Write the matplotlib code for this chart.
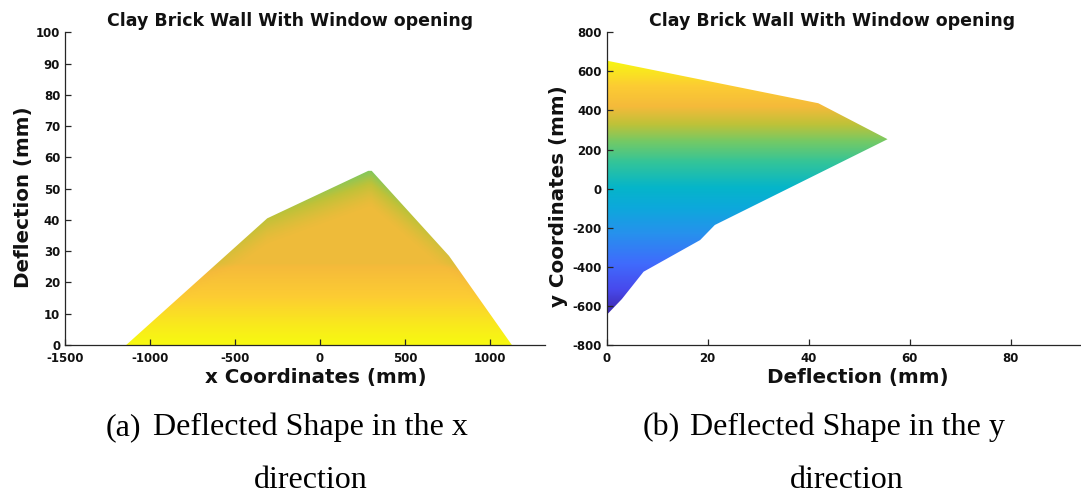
import numpy as np
import matplotlib
matplotlib.use("Agg")
import matplotlib.pyplot as plt
from matplotlib.colors import LinearSegmentedColormap
from matplotlib.patches import Polygon

plt.rcParams["axes.unicode_minus"] = False

# ---------------- DATA ----------------
# (a) outline of the deflected wall seen along y : x coordinate vs deflection
wall_x = [-1140, -310, 285, 305, 760, 1130]
wall_defl = [0, 40.5, 55.7, 55.7, 28.5, 0]

# (b) outline of the deflected wall seen along x : deflection vs y coordinate
profile_defl = [0, 41.9, 55.6, 21.4, 18.5, 7.3, 3.0, 0]
profile_y = [655, 437, 253, -186, -263, -425, -565, -646]

xticks_a = [-1500, -1000, -500, 0, 500, 1000]
yticks_a = [0, 10, 20, 30, 40, 50, 60, 70, 80, 90, 100]
xticks_b = [0, 20, 40, 60, 80]
yticks_b = [-800, -600, -400, -200, 0, 200, 400, 600, 800]

title = "Clay Brick Wall With Window opening"

# parula-like colour map (matlab default)
parula = LinearSegmentedColormap.from_list("parula", [
    (0.00, (0.24, 0.15, 0.66)),
    (0.10, (0.28, 0.29, 0.93)),
    (0.20, (0.25, 0.42, 0.99)),
    (0.32, (0.15, 0.57, 0.93)),
    (0.42, (0.05, 0.66, 0.86)),
    (0.50, (0.02, 0.71, 0.79)),
    (0.60, (0.20, 0.77, 0.60)),
    (0.68, (0.45, 0.79, 0.40)),
    (0.75, (0.75, 0.76, 0.22)),
    (0.82, (0.96, 0.73, 0.23)),
    (0.90, (0.99, 0.80, 0.20)),
    (1.00, (0.97, 0.97, 0.07)),
])

W, H = 1081, 500
fig = plt.figure(figsize=(W / 100, H / 100), dpi=100)


def px_axes(l, t, r, b):
    return fig.add_axes([l / W, 1 - b / H, (r - l) / W, (b - t) / H])


ax1 = px_axes(65, 32.3, 545, 345)
ax2 = px_axes(606.7, 32.3, 1081, 345)

# ---------------- (a) ----------------
xs = np.linspace(min(wall_x), max(wall_x), 700)
ds = np.linspace(0, max(wall_defl), 400)
X, D = np.meshgrid(xs, ds)
U = np.maximum(np.interp(X, wall_x, wall_defl), 1e-6)
h = U / max(wall_defl)
val = (1 - 0.19 * np.clip(D / 26, 0, 1) ** 1.2
       - 0.12 * np.clip((D - 0.78 * U) / (0.22 * U), 0, 1) ** 1.5 * h ** 2)
img1 = ax1.imshow(val, extent=[xs[0], xs[-1], 0, ds[-1]], origin="lower",
                  cmap=parula, vmin=0, vmax=1, aspect="auto", interpolation="bilinear")
poly1 = Polygon(np.column_stack([wall_x, wall_defl]), closed=True,
                facecolor="none", edgecolor="none")
ax1.add_patch(poly1)
img1.set_clip_path(poly1)

ax1.set_xlim(-1500, 1325)
ax1.set_ylim(0, 100)
ax1.set_xticks(xticks_a)
ax1.set_yticks(yticks_a)

# ---------------- (b) ----------------
ys = np.linspace(min(profile_y), max(profile_y), 500)
col = (ys - ys[0]) / (ys[-1] - ys[0])
img2 = ax2.imshow(np.tile(col[:, None], (1, 2)),
                  extent=[0, max(profile_defl), ys[0], ys[-1]], origin="lower",
                  cmap=parula, vmin=0, vmax=1, aspect="auto", interpolation="bilinear")
poly2 = Polygon(np.column_stack([profile_defl, profile_y]), closed=True,
                facecolor="none", edgecolor="none")
ax2.add_patch(poly2)
img2.set_clip_path(poly2)

ax2.set_xlim(0, 93.9)
ax2.set_ylim(-800, 800)
ax2.set_xticks(xticks_b)
ax2.set_yticks(yticks_b)

# ---------------- style ----------------
for ax in (ax1, ax2):
    for s in ("top", "right"):
        ax.spines[s].set_visible(False)
    for s in ("left", "bottom"):
        ax.spines[s].set_color("#262626")
        ax.spines[s].set_linewidth(0.9)
    ax.tick_params(direction="in", length=4, width=0.9, color="#262626",
                   labelsize=8.5, pad=3.5, labelcolor="#111111")
    ax.tick_params(axis="x", pad=5)
    plt.setp(ax.get_xticklabels() + ax.get_yticklabels(), fontweight="bold",
             family="DejaVu Sans")

lab = dict(family="DejaVu Sans", fontsize=14.3, fontweight="bold", color="#111111")
ax1.set_xlabel("x Coordinates (mm)", va="baseline", **lab)
ax1.xaxis.set_label_coords(316 / W, 1 - 383 / H, transform=fig.transFigure)
ax1.set_ylabel("Deflection (mm)", va="center", **lab)
ax1.yaxis.set_label_coords(24 / W, 1 - 197 / H, transform=fig.transFigure)

ax2.set_xlabel("Deflection (mm)", va="baseline", **lab)
ax2.xaxis.set_label_coords(858 / W, 1 - 383 / H, transform=fig.transFigure)
ax2.set_ylabel("y Coordinates (mm)", va="center", **lab)
ax2.yaxis.set_label_coords(558 / W, 1 - 196 / H, transform=fig.transFigure)

for cx in (290, 832):
    fig.text(cx / W, 1 - 26 / H, title, ha="center", va="baseline",
             family="DejaVu Sans", fontsize=12.5, fontweight="bold", color="#111111")

cap = dict(family="Liberation Serif", fontsize=23, va="baseline", color="black")
fig.text(106 / W, 1 - 435 / H, "(a)", ha="left", **cap)
fig.text(310 / W, 1 - 435 / H, "Deflected Shape in the x", ha="center", **cap)
fig.text(311 / W, 1 - 488 / H, "direction", ha="center", **cap)
fig.text(643 / W, 1 - 435 / H, "(b)", ha="left", **cap)
fig.text(847.5 / W, 1 - 435 / H, "Deflected Shape in the y", ha="center", **cap)
fig.text(846.5 / W, 1 - 488 / H, "direction", ha="center", **cap)

fig.savefig("out.png", dpi=100)
